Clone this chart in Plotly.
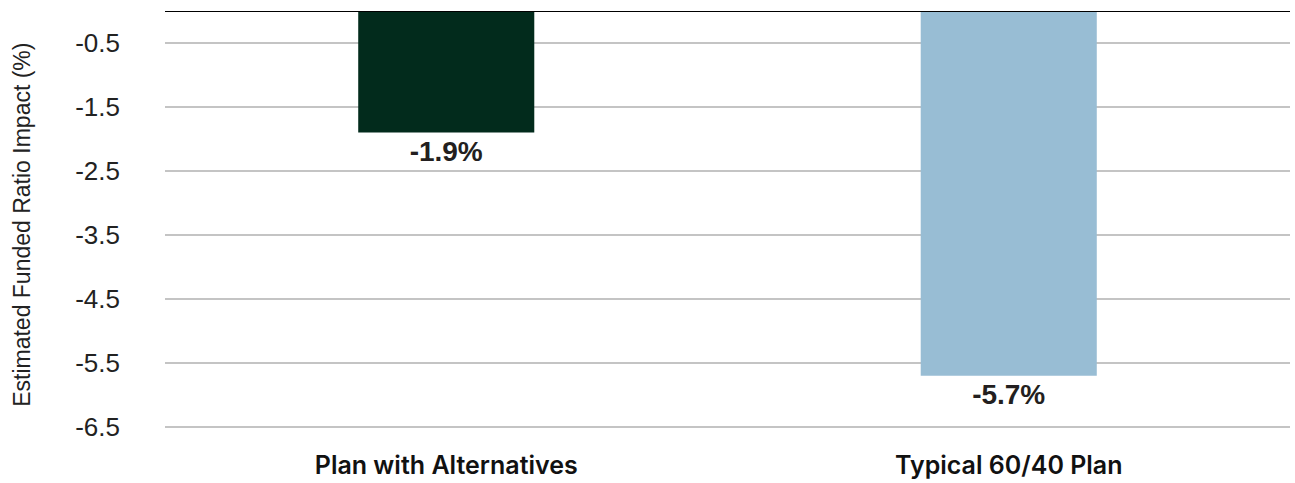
import plotly.graph_objects as go

categories = ["Plan with Alternatives", "Typical 60/40 Plan"]
values = [-1.9, -5.7]
labels = ["-1.9%", "-5.7%"]
colors = ["#022b1c", "#98bdd4"]
tick_vals = [-0.5, -1.5, -2.5, -3.5, -4.5, -5.5, -6.5]
tick_text = ["-0.5", "-1.5", "-2.5", "-3.5", "-4.5", "-5.5", "-6.5"]
y_title = "Estimated Funded Ratio Impact (%)"

fig = go.Figure()
fig.add_trace(go.Bar(
    x=categories, y=values, marker_color=colors, width=0.313,
    text=labels, textposition="outside", cliponaxis=False,
    textfont=dict(family="Liberation Sans, Arial", size=28, color="#231f20", weight="bold"),
    marker_line_width=0,
))
fig.update_layout(
    width=1295, height=483,
    margin=dict(l=165, r=5, t=11, b=40, autoexpand=False),
    plot_bgcolor="white", paper_bgcolor="white",
    showlegend=False,
    bargap=0.687,
    xaxis=dict(
        showgrid=False, showline=False, ticks="", automargin=False,
        tickfont=dict(family="Inter", size=25, color="#111111", weight=600),
        ticklabelstandoff=5,
    ),
    yaxis=dict(
        range=[-6.75, 0], tickvals=tick_vals, ticktext=tick_text, automargin=False,
        showgrid=True, gridcolor="#c4c4c4", gridwidth=1.5,
        zeroline=False, showline=False, ticks="",
        tickfont=dict(family="Liberation Sans, Arial", size=26, color="#222222"),
        ticklabelstandoff=44,
    ),
    annotations=[dict(
        text=y_title, textangle=-90, xref="paper", yref="paper",
        x=(22 - 165) / 1125, y=0.505, xanchor="center", yanchor="middle",
        showarrow=False, font=dict(family="Liberation Sans, Arial", size=23, color="#222222"),
    )],
    shapes=[dict(type="line", xref="paper", yref="y", x0=0, x1=1, y0=0, y1=0,
                 line=dict(color="black", width=2))],
)
fig.write_html("out.html")
